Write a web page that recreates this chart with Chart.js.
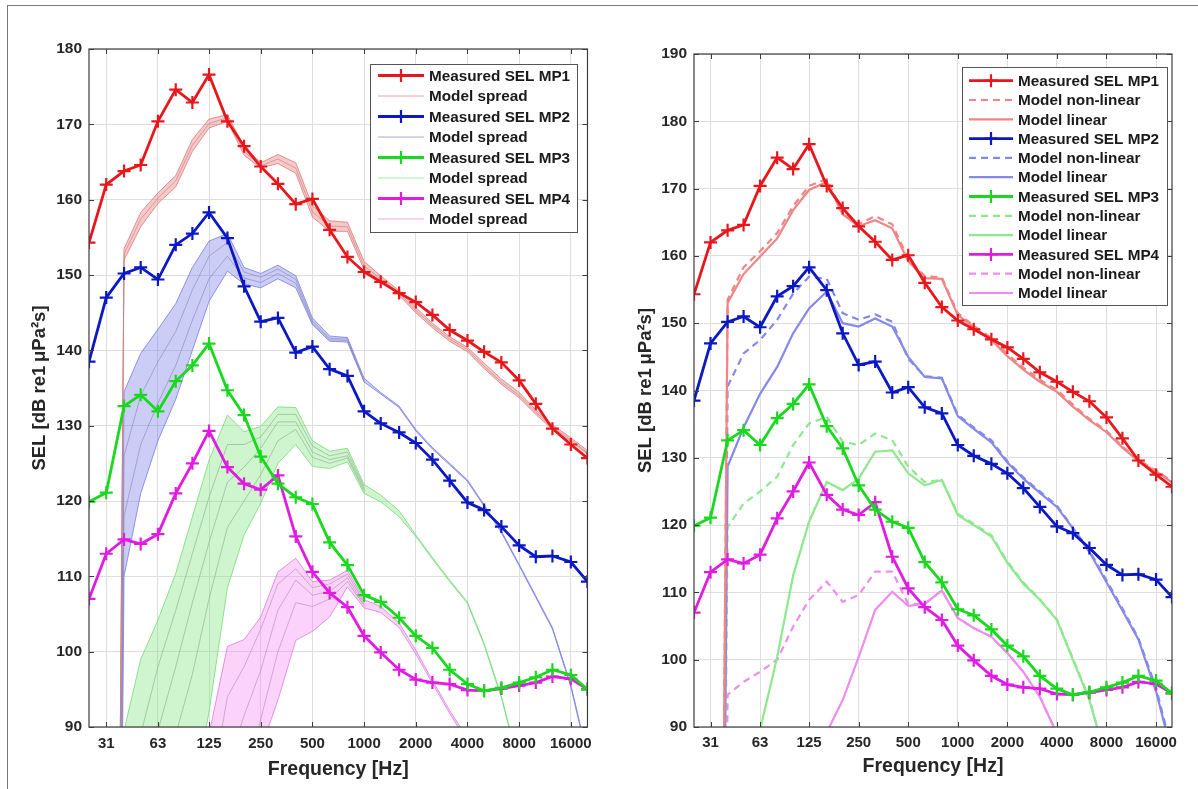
<!DOCTYPE html>
<html>
<head>
<meta charset="utf-8">
<script src="https://cdn.jsdelivr.net/npm/chart.js@4.4.1/dist/chart.umd.min.js"></script>
<style>
  body { margin: 0; background: #fff; }
  #wrap { position: relative; width: 1198px; height: 789px; overflow: hidden; }
  #frame { position: absolute; left: 7px; top: 5px; width: 1191px; height: 784px; border-top: 1px solid #777; border-left: 1px solid #777; }
  canvas { position: absolute; top: 0; }
</style>
</head>
<body>
<div id="wrap">
  <div id="frame"></div>
  <canvas id="leftChart" width="600" height="789" style="left:0px"></canvas>
  <canvas id="rightChart" width="598" height="789" style="left:600px"></canvas>
</div>
<script>
// third-octave band centres (Hz)
const freqs = [25, 31.5, 40, 50, 63, 80, 100, 125, 160, 200, 250, 315, 400, 500, 630, 800,
  1000, 1250, 1600, 2000, 2500, 3150, 4000, 5000, 6300, 8000, 10000, 12500, 16000, 20000];
const xTicks = [31.5, 63, 125, 250, 500, 1000, 2000, 4000, 8000, 16000];
const xTickLabels = ['31', '63', '125', '250', '500', '1000', '2000', '4000', '8000', '16000'];

// model output collapses below the 40 Hz band
const F = -150;

// measured SEL
const measuredMP1 = [154.3, 162.0, 163.8, 164.6, 170.4, 174.6, 172.9, 176.6, 170.4, 167.1, 164.4, 162.1, 159.4, 160.1, 156.0, 152.4,
  150.4, 149.1, 147.6, 146.4, 144.7, 142.7, 141.3, 139.8, 138.4, 136.0, 132.9, 129.6, 127.5, 125.7];
const measuredMP2 = [138.5, 147.0, 150.2, 151.0, 149.4, 154.0, 155.5, 158.3, 154.9, 148.5, 143.8, 144.3, 139.7, 140.5, 137.5, 136.6,
  131.9, 130.3, 129.1, 127.7, 125.5, 122.7, 119.8, 118.8, 116.6, 114.1, 112.6, 112.7, 111.9, 109.3];
const measuredMP3 = [119.9, 121.1, 132.6, 134.1, 131.9, 135.9, 138.0, 140.9, 134.7, 131.4, 125.9, 122.3, 120.5, 119.6, 114.5, 111.5,
  107.5, 106.6, 104.5, 102.1, 100.5, 97.6, 95.7, 94.8, 95.2, 95.9, 96.6, 97.6, 96.9, 95.0];
const measuredMP4 = [107.0, 113.0, 114.9, 114.3, 115.6, 121.0, 125.0, 129.3, 124.5, 122.3, 121.5, 123.4, 115.3, 110.6, 107.8, 105.9,
  102.1, 99.9, 97.6, 96.3, 95.9, 95.7, 94.9, 94.8, 95.1, 95.5, 95.9, 96.7, 96.4, 95.0];

// left panel: model spread (upper edge, inner runs, lower edge)
const spreadMP1High = [null, F, 153.5, 158.3, 160.9, 163.2, 168.0, 170.7, 171.3, 167.0, 164.9, 166.0, 164.9, 159.2, 157.2, 157.0,
  151.8, 149.9, 147.9, 145.7, 143.6, 141.8, 140.4, 138.3, 136.2, 134.4, 132.1, 130.1, 128.4, 126.7];
const spreadMP1Mid = [null, F, 152.8, 157.4, 160.2, 162.5, 167.2, 170.1, 170.9, 166.4, 164.5, 165.4, 164.2, 158.4, 156.5, 156.4,
  151.2, 149.5, 147.6, 145.3, 143.3, 141.5, 140.1, 137.9, 135.8, 134.0, 131.8, 129.8, 128.1, 126.4];
const spreadMP1Low = [null, F, 152.0, 156.4, 159.5, 161.7, 166.4, 169.5, 170.4, 165.9, 164.2, 164.8, 163.5, 157.7, 155.8, 155.8,
  150.7, 149.2, 147.3, 145.0, 143.0, 141.2, 139.8, 137.6, 135.5, 133.7, 131.5, 129.5, 127.9, 126.2];

const spreadMP2High = [null, F, 134.5, 139.6, 142.8, 146.2, 151.0, 154.5, 155.5, 151.0, 150.2, 151.3, 149.9, 144.3, 141.9, 141.7,
  136.3, 134.4, 132.6, 129.5, 127.1, 125.0, 122.8, 119.5, 116.0, 111.6, 107.4, 103.2, 95.6, 86.2];
const spreadMP2In2 = [null, F, 126.0, 134.0, 138.5, 142.5, 148.0, 152.5, 154.3, 150.4, 149.7, 150.8, 149.4, 143.9, 141.6, 141.5,
  136.0, null, null, null, null, null, null, null, null, null, null, null, null, null];
const spreadMP2In1 = [null, F, 118.0, 127.5, 133.0, 138.0, 144.0, 149.5, 152.5, 149.6, 149.0, 150.2, 148.9, 143.6, 141.4, 141.3,
  135.9, null, null, null, null, null, null, null, null, null, null, null, null, null];
const spreadMP2Low = [null, F, 110.0, 121.0, 128.0, 133.5, 140.0, 146.5, 150.5, 148.8, 148.3, 149.5, 148.3, 143.4, 141.2, 141.1,
  135.8, 134.2, 132.4, 129.3, 126.9, 124.8, 122.6, 119.3, 115.8, 111.4, 107.2, 103.0, 95.3, 85.9];

const spreadMP3High = [null, null, 89.5, 99.0, 104.2, 110.4, 117.9, 125.4, 131.4, 129.2, 129.9, 132.5, 132.4, 128.0, 126.6, 127.0,
  122.2, 120.8, 118.7, 115.5, 112.5, 109.5, 106.6, 101.1, 94.1, 84.9, null, null, null, null];
const spreadMP3In1 = [null, null, null, 89.0, 98.0, 105.5, 113.0, 120.5, 127.5, 127.5, 128.5, 131.5, 131.5, 127.3, 126.0, 126.5,
  121.9, null, null, null, null, null, null, null, null, null, null, null, null, null];
const spreadMP3In2 = [null, null, null, null, 89.5, 98.0, 106.5, 114.5, 122.5, 124.5, 127.0, 130.5, 130.5, 126.5, 125.5, 126.0,
  121.6, null, null, null, null, null, null, null, null, null, null, null, null, null];
const spreadMP3In3 = [null, null, null, null, null, 89.0, 97.0, 107.0, 116.5, 120.0, 123.5, 128.0, 129.5, 125.8, 125.0, 125.7,
  121.3, null, null, null, null, null, null, null, null, null, null, null, null, null];
const spreadMP3Low = [null, null, 60, 65, 70, 75, 80, 92.0, 108.5, 115.5, 119.7, 125.0, 127.5, 124.6, 124.3, 125.2,
  121.0, 119.9, 117.9, 115.3, 112.3, 109.3, 106.4, 100.9, 93.9, 84.7, null, null, null, null];

const spreadMP4High = [null, null, null, null, null, null, 75, 89.0, 100.7, 101.6, 104.6, 110.6, 112.4, 109.3, 109.5, 110.8,
  106.9, 106.0, 103.8, 100.2, 96.2, 92.2, 88.5, null, null, null, null, null, null, null];
const spreadMP4In1 = [null, null, null, null, null, null, null, 80, 94.0, 98.0, 103.0, 109.0, 111.0, 108.5, 109.0, 110.3,
  106.6, null, null, null, null, null, null, null, null, null, null, null, null, null];
const spreadMP4In2 = [null, null, null, null, null, null, null, null, 85, 91.5, 97.5, 105.5, 109.5, 107.5, 108.0, 109.8,
  106.3, null, null, null, null, null, null, null, null, null, null, null, null, null];
const spreadMP4In3 = [null, null, null, null, null, null, null, null, null, 83, 91.0, 100.0, 106.5, 106.0, 107.0, 109.3,
  106.1, null, null, null, null, null, null, null, null, null, null, null, null, null];
const spreadMP4Low = [null, null, null, null, null, null, 40, 50, 60, 70, 87.0, 93.6, 101.5, 102.7, 104.6, 108.6,
  105.8, 105.2, 103.2, 99.7, 95.8, 91.8, 88.0, null, null, null, null, null, null, null];

// right panel: non-linear and linear model
const nonLinMP1 = [null, F, 153.5, 158.3, 160.7, 163.4, 167.4, 170.4, 171.4, 166.6, 164.7, 165.9, 164.7, 159.6, 157.0, 156.8,
  151.5, 149.6, 147.8, 145.4, 143.4, 141.6, 140.1, 137.9, 135.8, 134.0, 131.7, 129.7, 128.1, 126.5];
const linMP1 = [null, F, 153.0, 157.3, 159.9, 162.6, 166.8, 169.8, 171.0, 166.2, 164.4, 165.3, 164.1, 159.2, 156.7, 156.6,
  151.2, 149.4, 147.5, 145.1, 143.1, 141.3, 139.8, 137.6, 135.6, 133.8, 131.5, 129.5, 128.0, 126.3];
const nonLinMP2 = [null, F, 140.6, 145.5, 147.5, 150.5, 154.4, 156.9, 156.6, 151.5, 150.5, 151.3, 150.2, 144.7, 142.1, 141.9,
  136.4, 134.5, 132.6, 129.5, 127.1, 125.0, 122.9, 119.6, 116.2, 111.8, 107.6, 103.2, 95.8, 86.5];
const linMP2 = [null, F, 128.7, 134.5, 139.5, 143.5, 148.5, 152.2, 154.7, 150.0, 149.5, 150.7, 149.5, 145.0, 142.0, 141.8,
  136.2, 134.3, 132.3, 129.3, 126.9, 124.8, 122.7, 119.5, 116.0, 111.5, 107.3, 103.0, 95.3, 86.0];
const nonLinMP3 = [null, F, 119.7, 123.2, 125.0, 127.2, 131.9, 135.1, 136.1, 132.4, 131.9, 133.6, 132.6, 128.7, 126.4, 126.7,
  121.7, 120.2, 118.5, 114.6, 111.5, 109.0, 106.0, 100.2, 94.2, 85.0, null, null, null, null];
const linMP3 = [null, null, null, 80.0, 89.6, 100.4, 112.5, 120.5, 126.4, 125.2, 126.9, 130.9, 131.1, 127.7, 125.9, 126.7,
  121.5, 120.0, 118.3, 114.4, 111.3, 108.9, 105.9, 100.0, 94.0, 85.0, null, null, null, null];
const nonLinMP4 = [null, F, 94.8, 96.7, 98.2, 100.0, 104.9, 108.9, 111.6, 108.6, 109.6, 113.1, 113.1, 108.3, 108.3, 110.3,
  106.2, 104.7, 103.4, 101.0, 98.2, 94.5, 89.0, null, null, null, null, null, null, null];
const linMP4 = [null, null, null, null, null, null, null, 80.0, 89.2, 94.0, 100.4, 107.4, 110.1, 108.0, 108.3, 110.3,
  106.2, 104.7, 103.4, 101.0, 98.2, 94.5, 89.0, null, null, null, null, null, null, null];

const FONT = "'Liberation Sans', Arial, sans-serif";
Chart.defaults.font.family = FONT;
Chart.defaults.color = '#262626';

const RED = '#e8171c', BLUE = '#0c18c2', GREEN = '#19d81e', MAGENTA = '#e01ce2';
const RED_L = '#f08585', BLUE_L = '#8589ea', GREEN_L = '#8ee88e', MAGENTA_L = '#ef8cef';

const pts = vals => freqs.map((f, i) => ({x: f, y: vals[i]}));

function measured(label, vals, color) {
  return {
    label, data: pts(vals), borderColor: color, backgroundColor: color, borderWidth: 2.8,
    pointStyle: 'cross', pointRadius: 6.5, pointBorderWidth: 2.2, pointBorderColor: color,
    fill: false, tension: 0, order: 0
  };
}

function modelLine(vals, color, width, dash, extra) {
  return Object.assign({
    data: pts(vals), borderColor: color, borderWidth: width, borderDash: dash || [],
    pointRadius: 0, fill: false, tension: 0, order: 1
  }, extra || {});
}

// ----- left panel datasets -----
const leftDatasets = [];
const spreads = [
  {edge: 'rgba(228,120,120,0.8)', fill: 'rgba(232,118,118,0.40)', high: spreadMP1High, inner: [spreadMP1Mid], low: spreadMP1Low},
  {edge: 'rgba(120,124,228,0.8)', fill: 'rgba(118,124,232,0.38)', high: spreadMP2High, inner: [spreadMP2In2, spreadMP2In1], low: spreadMP2Low},
  {edge: 'rgba(120,218,120,0.8)', fill: 'rgba(120,228,120,0.36)', high: spreadMP3High, inner: [spreadMP3In1, spreadMP3In2, spreadMP3In3], low: spreadMP3Low},
  {edge: 'rgba(226,120,226,0.8)', fill: 'rgba(240,130,240,0.36)', high: spreadMP4High, inner: [spreadMP4In1, spreadMP4In2, spreadMP4In3], low: spreadMP4Low}
];
spreads.forEach(s => {
  const lowIdx = leftDatasets.length + 1 + s.inner.length;
  leftDatasets.push(modelLine(s.high, s.edge, 1, null, {fill: lowIdx, backgroundColor: s.fill}));
  s.inner.forEach(a => leftDatasets.push(modelLine(a, 'rgba(140,140,140,0.6)', 1)));
  leftDatasets.push(modelLine(s.low, s.edge, 1));
});
leftDatasets.push(measured('Measured SEL MP1', measuredMP1, RED));
leftDatasets.push(measured('Measured SEL MP2', measuredMP2, BLUE));
leftDatasets.push(measured('Measured SEL MP3', measuredMP3, GREEN));
leftDatasets.push(measured('Measured SEL MP4', measuredMP4, MAGENTA));

// ----- right panel datasets -----
const rightDatasets = [
  measured('Measured SEL MP1', measuredMP1, RED),
  measured('Measured SEL MP2', measuredMP2, BLUE),
  measured('Measured SEL MP3', measuredMP3, GREEN),
  measured('Measured SEL MP4', measuredMP4, MAGENTA),
  modelLine(nonLinMP1, RED_L, 2.2, [7, 5]),
  modelLine(linMP1, RED_L, 2.2),
  modelLine(nonLinMP2, BLUE_L, 2.2, [7, 5]),
  modelLine(linMP2, BLUE_L, 2.2),
  modelLine(nonLinMP3, GREEN_L, 2.2, [7, 5]),
  modelLine(linMP3, GREEN_L, 2.2),
  modelLine(nonLinMP4, MAGENTA_L, 2.2, [7, 5]),
  modelLine(linMP4, MAGENTA_L, 2.2)
];

// box around the plot with inward ticks, like MATLAB
const axesBox = {
  id: 'axesBox',
  afterDatasetsDraw(chart) {
    const {ctx, chartArea: a, scales} = chart;
    ctx.save();
    ctx.strokeStyle = '#3c3c3c';
    ctx.lineWidth = 1.2;
    ctx.strokeRect(a.left, a.top, a.right - a.left, a.bottom - a.top);
    ctx.lineWidth = 1;
    ctx.beginPath();
    scales.x.ticks.forEach(t => {
      const px = Math.round(scales.x.getPixelForValue(t.value)) + 0.5;
      ctx.moveTo(px, a.bottom); ctx.lineTo(px, a.bottom - 5);
      ctx.moveTo(px, a.top); ctx.lineTo(px, a.top + 5);
    });
    scales.y.ticks.forEach(t => {
      const py = Math.round(scales.y.getPixelForValue(t.value)) + 0.5;
      ctx.moveTo(a.left, py); ctx.lineTo(a.left + 5, py);
      ctx.moveTo(a.right, py); ctx.lineTo(a.right - 5, py);
    });
    ctx.stroke();
    ctx.restore();
  }
};

// legend box inside the plot
const boxLegend = {
  id: 'boxLegend',
  afterDraw(chart, args, o) {
    const ctx = chart.ctx;
    ctx.save();
    ctx.fillStyle = '#fff';
    ctx.fillRect(o.x, o.y, o.w, o.h);
    ctx.strokeStyle = '#555';
    ctx.lineWidth = 1;
    ctx.strokeRect(o.x + 0.5, o.y + 0.5, o.w, o.h);
    ctx.font = 'bold 15.3px ' + FONT;
    ctx.textBaseline = 'middle';
    o.items.forEach((it, i) => {
      const cy = o.firstRow + i * o.rowH;
      ctx.strokeStyle = it.color;
      ctx.lineWidth = it.width;
      ctx.setLineDash(it.dash || []);
      ctx.beginPath();
      ctx.moveTo(o.lineFrom, cy); ctx.lineTo(o.lineTo, cy);
      ctx.stroke();
      ctx.setLineDash([]);
      if (it.marker) {
        const cx = (o.lineFrom + o.lineTo) / 2;
        ctx.lineWidth = 2.2;
        ctx.beginPath();
        ctx.moveTo(cx - 6.5, cy); ctx.lineTo(cx + 6.5, cy);
        ctx.moveTo(cx, cy - 6.5); ctx.lineTo(cx, cy + 6.5);
        ctx.stroke();
      }
      ctx.fillStyle = '#1a1a1a';
      ctx.fillText(it.text, o.textX, cy + 1);
    });
    ctx.restore();
  }
};

function scalesFor(yMin, yMax, yWidth, yTitlePad, xTickPad, xTitlePad) {
  return {
    x: {
      type: 'logarithmic', min: 25, max: 20000,
      afterBuildTicks: s => { s.ticks = xTicks.map(v => ({value: v})); },
      afterFit: s => { s.height = 62; },
      ticks: {
        autoSkip: false, maxRotation: 0, padding: xTickPad,
        font: {size: 15, weight: 'bold'}, color: '#262626',
        callback: (v, i) => xTickLabels[i]
      },
      grid: {color: '#dedede', drawTicks: false},
      border: {display: false},
      title: {display: true, text: 'Frequency [Hz]', font: {size: 19.5, weight: 'bold'}, color: '#262626', padding: {top: 0, bottom: xTitlePad}}
    },
    y: {
      min: yMin, max: yMax,
      afterFit: s => { s.width = yWidth; },
      ticks: {stepSize: 10, padding: 7, font: {size: 15.5, weight: 'bold'}, color: '#262626'},
      grid: {color: '#dedede', drawTicks: false},
      border: {display: false},
      title: {display: true, text: 'SEL [dB re1\u2009\u03bcPa\u00b2s]', font: {size: 18.5, weight: 'bold'}, color: '#262626', padding: {top: yTitlePad, bottom: 0}}
    }
  };
}

const legendLeft = {
  x: 370, y: 64, w: 207, h: 168, firstRow: 75.5, rowH: 20.5, lineFrom: 378, lineTo: 424, textX: 429,
  items: [
    {text: 'Measured SEL MP1', color: RED, width: 2.8, marker: true},
    {text: 'Model spread', color: '#f0a3a3', width: 1},
    {text: 'Measured SEL MP2', color: BLUE, width: 2.8, marker: true},
    {text: 'Model spread', color: '#a3a6ee', width: 1},
    {text: 'Measured SEL MP3', color: GREEN, width: 2.8, marker: true},
    {text: 'Model spread', color: '#a6eea6', width: 1},
    {text: 'Measured SEL MP4', color: MAGENTA, width: 2.8, marker: true},
    {text: 'Model spread', color: '#eea6ee', width: 1}
  ]
};

const legendRight = {
  x: 362, y: 67, w: 205, h: 238, firstRow: 80.7, rowH: 19.3, lineFrom: 369, lineTo: 413, textX: 418,
  items: [
    {text: 'Measured SEL MP1', color: RED, width: 2.8, marker: true},
    {text: 'Model non-linear', color: RED_L, width: 2.2, dash: [7, 5]},
    {text: 'Model linear', color: RED_L, width: 2.2},
    {text: 'Measured SEL MP2', color: BLUE, width: 2.8, marker: true},
    {text: 'Model non-linear', color: BLUE_L, width: 2.2, dash: [7, 5]},
    {text: 'Model linear', color: BLUE_L, width: 2.2},
    {text: 'Measured SEL MP3', color: GREEN, width: 2.8, marker: true},
    {text: 'Model non-linear', color: GREEN_L, width: 2.2, dash: [7, 5]},
    {text: 'Model linear', color: GREEN_L, width: 2.2},
    {text: 'Measured SEL MP4', color: MAGENTA, width: 2.8, marker: true},
    {text: 'Model non-linear', color: MAGENTA_L, width: 2.2, dash: [7, 5]},
    {text: 'Model linear', color: MAGENTA_L, width: 2.2}
  ]
};

new Chart(document.getElementById('leftChart'), {
  type: 'line',
  data: {datasets: leftDatasets},
  options: {
    responsive: false, animation: false,
    layout: {padding: {left: 0, top: 49, right: 9, bottom: 0}},
    scales: scalesFor(90, 180, 89, 29, 8, 8),
    plugins: {legend: {display: false}, tooltip: {enabled: false}, boxLegend: legendLeft}
  },
  plugins: [axesBox, boxLegend]
});

new Chart(document.getElementById('rightChart'), {
  type: 'line',
  data: {datasets: rightDatasets},
  options: {
    responsive: false, animation: false,
    layout: {padding: {left: 0, top: 54, right: 26, bottom: 0}},
    scales: scalesFor(90, 190, 94, 35, 7, 11),
    plugins: {legend: {display: false}, tooltip: {enabled: false}, boxLegend: legendRight}
  },
  plugins: [axesBox, boxLegend]
});
</script>
</body>
</html>
